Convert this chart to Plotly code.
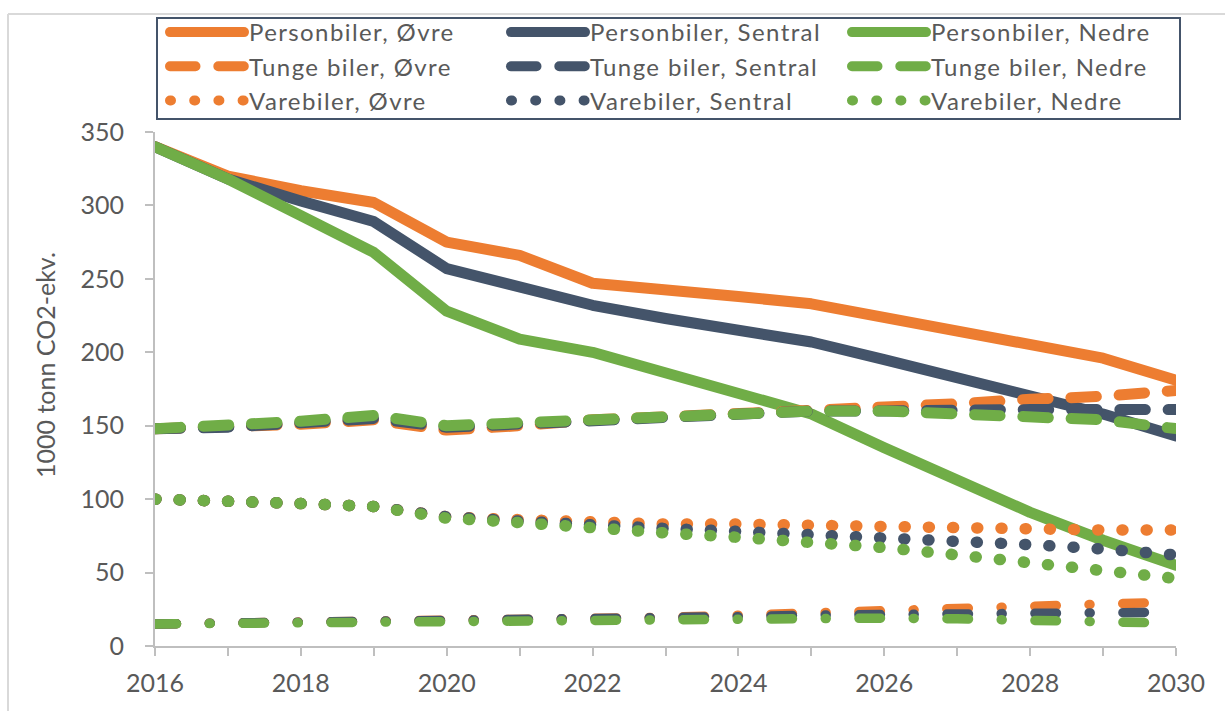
import plotly.graph_objects as go

years = list(range(2016, 2031))

pers_ovre = [340, 320, 310, 302, 275, 266, 247, 243, 238, 233, 224, 214, 205, 196, 181]
pers_sentral = [340, 318, 303, 289, 257, 244, 232, 223, 215, 207, 195, 183, 171, 158, 143]
pers_nedre = [340, 318, 293, 268, 228, 209, 200, 186, 172, 158, 135, 113, 91, 72, 55]

tunge_ovre = [148, 149, 151, 154, 147, 150, 154, 156, 158, 160, 162, 165, 168, 170, 174]
tunge_sentral = [148, 149, 152, 155, 149, 151, 154, 156, 158, 160, 160, 161, 161, 161, 161]
tunge_nedre = [148, 150, 153, 157, 150, 152, 154, 156, 158, 160, 160, 158, 156, 154, 148]

vare_ovre = [100, 99, 97, 95, 88, 86, 84, 83, 83, 82, 82, 81, 80, 79, 79]
vare_sentral = [100, 99, 97, 95, 88, 85, 82, 80, 78, 76, 74, 72, 69, 66, 62]
vare_nedre = [100, 99, 97, 95, 87, 84, 80, 77, 74, 71, 67, 62, 57, 52, 46]

# fourth group (not shown in legend)
andre_ovre = [15, 15.5, 16, 16.5, 17, 17.5, 18.5, 19.5, 21, 22.5, 24, 25.5, 27, 29, 30]
andre_sentral = [15, 15.5, 16, 16.5, 17, 17, 18, 19, 20, 21, 21.5, 22, 22.5, 23, 23]
andre_nedre = [15, 15.5, 16, 16.5, 17, 17, 17.5, 18, 18.5, 19, 19, 18.5, 17.5, 16.5, 15.5]

ORANGE = "#ED7D31"
DARK = "#44546A"
GREEN = "#70AD47"
TEXT = "#595959"
AXIS = "#BFBFBF"
FONT = "Lato, 'Open Sans', sans-serif"

fig = go.Figure()

groups = [
    ("Personbiler", [pers_ovre, pers_sentral, pers_nedre], "solid", 11, True),
    ("Tunge biler", [tunge_ovre, tunge_sentral, tunge_nedre], "25.5px,22.8px", 11, True),
    ("Varebiler", [vare_ovre, vare_sentral, vare_nedre], "1px,23.2px", 11.5, True),
    ("Andre", [andre_ovre, andre_sentral, andre_nedre], "21.5px,32.75px,1px,32.75px", 9.5, False),
]
scen = [("Øvre", ORANGE), ("Sentral", DARK), ("Nedre", GREEN)]

for gname, series, dash, width, show in groups:
    for (sname, col), vals in zip(scen, series):
        fig.add_trace(go.Scatter(
            x=years, y=vals, mode="lines",
            name=f"{gname}, {sname}",
            line=dict(color=col, width=width, dash=dash),
            showlegend=show,
        ))

# pixel helpers for layout placement only
L, R, T, B = 155, 49, 132, 65
PW, PH = 1225 - L - R, 711 - T - B

def px(xp):
    return (xp - L) / PW

def py(yp):
    return (711 - B - yp) / PH

fig.update_layout(
    width=1225, height=711,
    margin=dict(l=L, r=R, t=T, b=B, autoexpand=False),
    paper_bgcolor="white", plot_bgcolor="white",
    font=dict(family=FONT, color=TEXT, size=25),
    showlegend=True,
    legend=dict(
        orientation="h",
        x=px(165), xanchor="left",
        y=py(10), yanchor="top",
        entrywidth=252, entrywidthmode="pixels",
        itemwidth=74,
        borderwidth=0,
        bgcolor="rgba(0,0,0,0)",
        font=dict(family=FONT, size=24, color=TEXT),
        tracegroupgap=0,
    ),
    xaxis=dict(
        range=[2016, 2030], tick0=2016, dtick=2,
        showgrid=False, zeroline=False,
        showline=True, linecolor=AXIS, linewidth=2,
        ticks="outside", ticklen=8, tickwidth=2, tickcolor=AXIS,
        minor=dict(dtick=1, tick0=2016, ticks="outside", ticklen=8, tickwidth=2, tickcolor=AXIS, showgrid=False),
        tickfont=dict(family=FONT, size=25, color=TEXT),
        ticklabelstandoff=6,
    ),
    yaxis=dict(
        range=[0, 350], tick0=0, dtick=50,
        showgrid=False, zeroline=False,
        showline=True, linecolor=AXIS, linewidth=2,
        ticks="outside", ticklen=8, tickwidth=2, tickcolor=AXIS,
        tickfont=dict(family=FONT, size=25, color=TEXT),
        ticklabelstandoff=16,
    ),
    annotations=[dict(
        text="1000 tonn CO2-ekv.", textangle=-90,
        xref="paper", yref="paper", x=px(45), y=py(365),
        xanchor="center", yanchor="middle", showarrow=False,
        font=dict(family=FONT, size=25, color=TEXT),
    )],
    shapes=[
        dict(type="line", xref="paper", yref="paper", x0=px(8), x1=px(1240), y0=py(14), y1=py(14),
             line=dict(color="#D9D9D9", width=2)),
        dict(type="line", xref="paper", yref="paper", x0=px(8), x1=px(8), y0=py(14), y1=py(730),
             line=dict(color="#D9D9D9", width=2)),
        # legend frame
        dict(type="rect", xref="paper", yref="paper", x0=px(157), x1=px(1180), y0=py(18), y1=py(119),
             line=dict(color="#44546A", width=2), fillcolor="rgba(0,0,0,0)", layer="above"),
    ],
)

post = (
    "document.body.style.margin='0';"
    "var s=document.createElement('style');"
    "s.innerHTML='body{margin:0 !important;} "
    ".scatterlayer .js-line, .legend .js-line, .legendlines path {stroke-linecap: round !important; stroke-linejoin: round !important;} "
    ".legendtext {letter-spacing: 1.4px;}';"
    "document.head.appendChild(s);"
)

fig.write_html("out.html", post_script=post, config={"displayModeBar": False})
